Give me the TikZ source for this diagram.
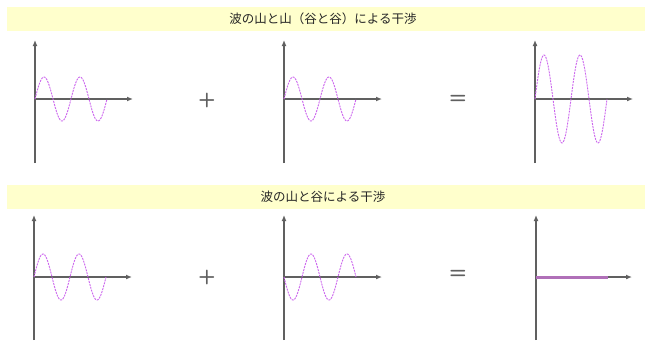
\documentclass[tikz,border=0pt]{standalone}
\usepackage{fontspec}
\newfontfamily\jp{Noto Sans CJK JP}
\usetikzlibrary{arrows.meta}
\definecolor{bandyellow}{HTML}{FFFFCC}
\definecolor{axisgray}{HTML}{606060}
\definecolor{wavecol}{HTML}{CC66EE}
\definecolor{flatcol}{HTML}{B070B8}
\begin{document}
\begin{tikzpicture}[x=1pt,y=-1pt,
  axis/.style={draw=axisgray,line width=1.3pt,-{Latex[length=6pt,width=5pt]}},
  wave/.style={draw=wavecol,line width=0.9pt,dash pattern=on 2pt off 1pt},
  flat/.style={draw=flatcol,line width=3pt},
  title/.style={font=\jp\fontsize{12.5}{13}\selectfont,text=black!85,inner sep=0pt},
  op/.style={font=\sffamily\fontsize{20}{20}\selectfont\bfseries,text=axisgray,inner sep=0pt}]
\useasboundingbox (0,0) rectangle (645,340);
\fill[white] (0,0) rectangle (645,340);
% bands
\fill[bandyellow] (7,7) rectangle (645,31);
\fill[bandyellow] (7,185) rectangle (645,209);
\node[title] (t1) at (323,19) {波の山と山（谷と谷）による干渉};
\node[title] (t2) at (323,197) {波の山と谷による干渉};
% top row
\foreach \n/\ox/\amp in {a/35/22,b/284/22,c/535/44}{
  \begin{scope}[shift={(\ox,99)}]
    \coordinate (\n bot) at (0,64);
    \coordinate (\n top) at (0,-59);
    \coordinate (\n o) at (0,0);
    \coordinate (\n r) at (98,0);
    \draw[axis] (\n bot) -- (\n top);
    \draw[axis] (\n o) -- (\n r);
    \draw[wave] plot[domain=0:72,samples=120] (\x,{-\amp*sin(10*\x)});
  \end{scope}
}
% bottom row
\foreach \n/\ox/\sg in {d/34/1,e/284/-1}{
  \begin{scope}[shift={(\ox,277)}]
    \coordinate (\n bot) at (0,63);
    \coordinate (\n top) at (0,-62);
    \coordinate (\n o) at (0,0);
    \coordinate (\n r) at (98,0);
    \draw[axis] (\n bot) -- (\n top);
    \draw[axis] (\n o) -- (\n r);
    \draw[wave] plot[domain=0:72,samples=120] (\x,{-\sg*23*sin(10*\x)});
  \end{scope}
}
\begin{scope}[shift={(536,277)}]
  \coordinate (fbot) at (0,63);
  \coordinate (ftop) at (0,-62);
  \coordinate (fo) at (0,0);
  \coordinate (fr) at (96,0);
  \coordinate (fend) at (72,0);
  \draw[axis] (fbot) -- (ftop);
  \draw[axis] (fo) -- (fr);
  \draw[flat] (fo) -- (fend);
\end{scope}
% operators
\node[op] (p1) at (207,100) {+};
\node[op] (q1) at (458,99) {=};
\node[op] (p2) at (207,277) {+};
\node[op] (q2) at (458,274) {=};
\end{tikzpicture}
\end{document}
